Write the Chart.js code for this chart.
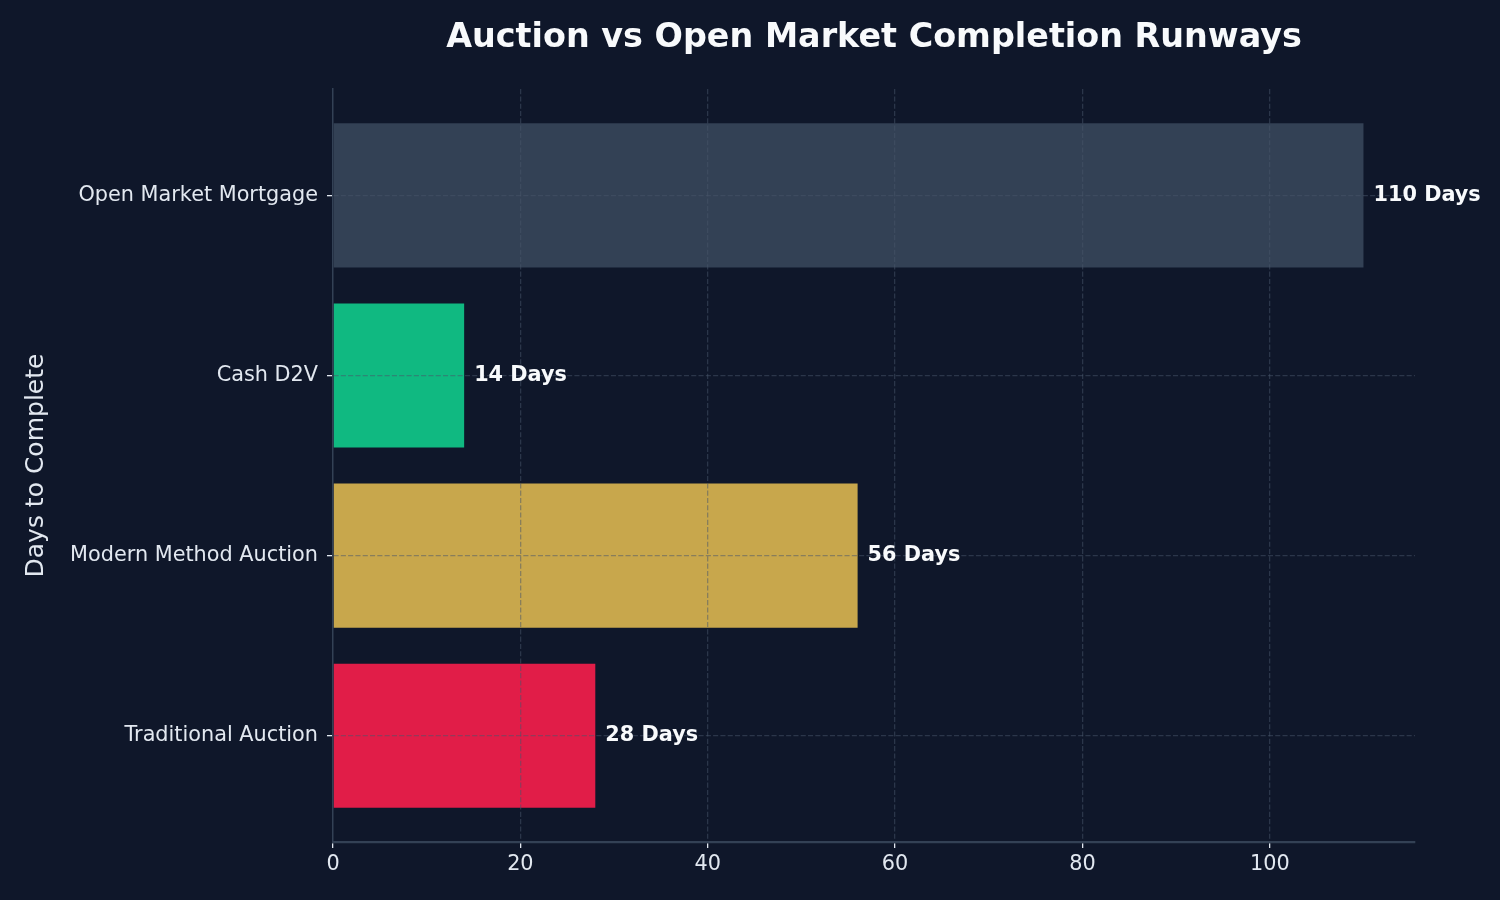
<!DOCTYPE html>
<html>
<head>
<meta charset="utf-8">
<script src="https://cdn.jsdelivr.net/npm/chart.js@4.4.0/dist/chart.umd.min.js"></script>
<style>
  html, body { margin: 0; padding: 0; background: #0f172a; }
  #wrap { width: 1500px; height: 900px; }
</style>
</head>
<body>
<div id="wrap"><canvas id="c" width="1500" height="900"></canvas></div>
<script>
const categories = ["Open Market Mortgage", "Cash D2V", "Modern Method Auction", "Traditional Auction"];
const days = [110, 14, 56, 28];
const barColors = ["#334155", "#10b981", "#c8a74c", "#e11d48"];
const xTicks = [0, 20, 40, 60, 80, 100];
const labelSuffix = " Days";

const FONT = "'DejaVu Sans', sans-serif";
const gridColor = "rgba(71,85,105,0.5)";
const gridDash = [5.1, 2.2];

const bgPlugin = {
  id: 'bg',
  beforeDraw(chart) {
    const ctx = chart.ctx;
    ctx.save();
    ctx.fillStyle = '#0f172a';
    ctx.fillRect(0, 0, chart.width, chart.height);
    ctx.restore();
  }
};

const valueLabels = {
  id: 'valueLabels',
  afterDraw(chart) {
    const ctx = chart.ctx;
    const meta = chart.getDatasetMeta(0);
    ctx.save();
    ctx.font = "bold 20.8px " + FONT;
    ctx.fillStyle = '#f8fafc';
    ctx.textAlign = 'left';
    ctx.textBaseline = 'middle';
    meta.data.forEach((el, i) => {
      ctx.fillText(days[i] + labelSuffix, el.x + 10, el.y);
    });
    ctx.restore();
  }
};

new Chart(document.getElementById('c'), {
  type: 'bar',
  data: {
    datasets: [{
      data: days.map((v, i) => ({ x: v, y: i })),
      backgroundColor: barColors,
      borderWidth: 0,
      categoryPercentage: 1.0,
      barPercentage: 0.8
    }]
  },
  options: {
    indexAxis: 'y',
    responsive: false,
    devicePixelRatio: 1,
    animation: false,
    layout: { padding: { left: 0, right: 85, top: 0, bottom: 0 } },
    plugins: {
      legend: { display: false },
      tooltip: { enabled: false },
      title: {
        display: true,
        text: 'Auction vs Open Market Completion Runways',
        color: '#f8fafc',
        fullSize: false,
        font: { family: FONT, size: 33.4, weight: 'bold' },
        padding: { top: 18, bottom: 31 }
      }
    },
    scales: {
      x: {
        type: 'linear',
        position: 'bottom',
        min: 0,
        max: 115.5,
        offset: false,
        afterBuildTicks(scale) { scale.ticks = xTicks.map(v => ({ value: v })); },
        afterFit(scale) { scale.height = 58; },
        ticks: {
          color: '#e2e8f0',
          font: { family: FONT, size: 20.8 },
          padding: 4,
          maxRotation: 0
        },
        grid: {
          z: 1,
          offset: false,
          color: ctx => (ctx.tick && ctx.tick.value === 0) ? 'rgba(0,0,0,0)' : gridColor,
          lineWidth: 1.3,
          tickColor: '#e2e8f0',
          tickLength: 6,
          tickWidth: 1.3,
          tickBorderDash: [],
          drawTicks: true
        },
        border: { display: true, z: 2, color: '#334155', width: 2.2, dash: gridDash }
      },
      y: {
        type: 'linear',
        position: 'left',
        min: -0.59,
        max: 3.59,
        reverse: true,
        offset: false,
        afterBuildTicks(scale) { scale.ticks = categories.map((c, i) => ({ value: i })); },
        afterFit(scale) { scale.width = 333; },
        ticks: {
          color: '#e2e8f0',
          font: { family: FONT, size: 20.8 },
          padding: 9,
          callback: v => categories[v]
        },
        grid: {
          z: 1,
          offset: false,
          color: gridColor,
          lineWidth: 1.3,
          tickColor: '#e2e8f0',
          tickLength: 6,
          tickWidth: 1.3,
          tickBorderDash: [],
          drawTicks: true
        },
        border: { display: true, z: 2, color: '#334155', width: 1.5, dash: gridDash },
        title: {
          display: true,
          text: 'Days to Complete',
          color: '#e2e8f0',
          font: { family: FONT, size: 25 },
          padding: { top: 21, bottom: 0 }
        }
      }
    }
  },
  plugins: [bgPlugin, valueLabels]
});
</script>
</body>
</html>
